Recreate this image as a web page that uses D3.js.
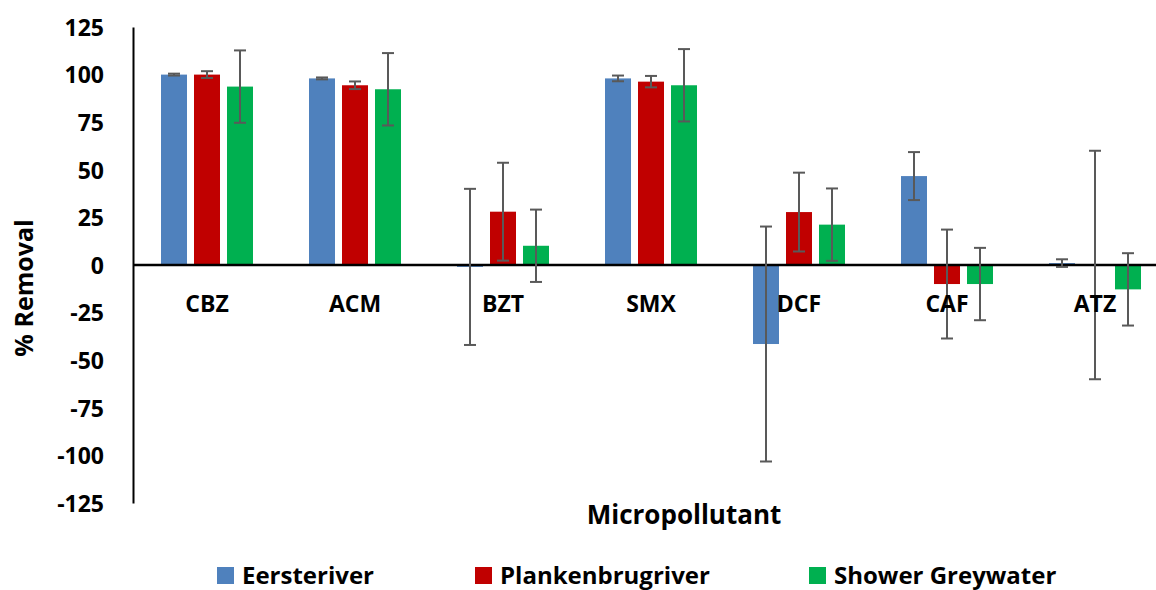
<!DOCTYPE html>
<html>
<head>
<meta charset="utf-8">
<script src="https://cdn.jsdelivr.net/npm/d3@7"></script>
<style>
  body { margin: 0; background: #fff; }
  text { font-family: "Open Sans", sans-serif; font-weight: bold; fill: #000; }
</style>
</head>
<body>
<script>
var w = 1156;
var h = 590;

// data
var categories = ["CBZ", "ACM", "BZT", "SMX", "DCF", "CAF", "ATZ"];
var seriesNames = ["Eersteriver", "Plankenbrugriver", "Shower Greywater"];
var eersteriver = [100, 98, -1, 98, -41.5, 46.7, 1];
var eersteriverErr = [0.5, 0.5, 41, 1.5, 61.7, 12.6, 2];
var plankenbrug = [100, 94.4, 28, 96.3, 27.8, -10, 0];
var plankenbrugErr = [1.8, 2, 25.7, 3, 20.7, 28.6, 60];
var greywater = [93.7, 92.3, 10.1, 94.4, 21.2, -10, -12.8];
var greywaterErr = [19, 19, 19, 19, 19, 19, 19];
var yTicks = [125, 100, 75, 50, 25, 0, -25, -50, -75, -100, -125];
var colors = ["#4F81BD", "#C00000", "#00B050"];

var values = [eersteriver, plankenbrug, greywater];
var errors = [eersteriverErr, plankenbrugErr, greywaterErr];

var marginLeft = 133, marginTop = 27, plotW = 1036, plotH = 476;

var svg = d3.select("body").append("svg").attr("width", w).attr("height", h);
var g = svg.append("g").attr("transform", "translate(" + marginLeft + "," + marginTop + ")");

var xScale = d3.scaleBand()
    .domain(categories)
    .range([0, plotW])
    .paddingInner(56 / 148)
    .paddingOuter(28 / 148);
var xInner = d3.scaleBand()
    .domain(d3.range(seriesNames.length))
    .range([0, xScale.bandwidth()])
    .paddingInner(7 / 33);
var yScale = d3.scaleLinear().domain([-125, 125]).range([plotH, 0]);

// bars
var rows = [];
categories.forEach(function (c, i) {
    values.forEach(function (s, j) {
        rows.push({ cat: c, s: j, v: s[i], e: errors[j][i] });
    });
});

g.selectAll("rect.bar").data(rows).enter().append("rect")
    .attr("class", "bar")
    .attr("x", function (d) { return xScale(d.cat) + xInner(d.s); })
    .attr("y", function (d) { return yScale(Math.max(0, d.v)); })
    .attr("width", xInner.bandwidth())
    .attr("height", function (d) { return Math.abs(yScale(d.v) - yScale(0)); })
    .style("fill", function (d) { return colors[d.s]; });

// y axis labels, no ticks (plain hyphen for negatives)
var yAxis = d3.axisLeft(yScale).tickValues(yTicks).tickSize(0).tickPadding(29)
    .tickFormat(function (d) { return String(d); });
var ya = g.append("g").call(yAxis);
ya.attr("font-family", null).attr("font-size", null);
ya.select(".domain").attr("stroke", "#000").attr("stroke-width", 2);
ya.selectAll("text").style("font-size", "23px").attr("dy", "0.36em");

// zero line
g.append("line")
    .attr("x1", 0).attr("x2", plotW)
    .attr("y1", yScale(0)).attr("y2", yScale(0))
    .attr("stroke", "#000").attr("stroke-width", 2.5);

// error bars
var eb = g.selectAll("g.err").data(rows).enter().append("g").attr("class", "err")
    .attr("transform", function (d) {
        return "translate(" + (xScale(d.cat) + xInner(d.s) + xInner.bandwidth() / 2) + ",0)";
    });
eb.append("line")
    .attr("y1", function (d) { return yScale(d.v + d.e); })
    .attr("y2", function (d) { return yScale(d.v - d.e); })
    .attr("stroke", "#595959").attr("stroke-width", 2);
eb.selectAll("line.cap").data(function (d) { return [d.v + d.e, d.v - d.e]; })
    .enter().append("line").attr("class", "cap")
    .attr("x1", -6).attr("x2", 6)
    .attr("y1", function (d) { return yScale(d); })
    .attr("y2", function (d) { return yScale(d); })
    .attr("stroke", "#595959").attr("stroke-width", 2);

// category labels
g.selectAll("text.cat").data(categories).enter().append("text")
    .attr("class", "cat")
    .attr("x", function (d) { return xScale(d) + xScale.bandwidth() / 2; })
    .attr("y", 285)
    .attr("text-anchor", "middle")
    .style("font-size", "23px")
    .text(function (d) { return d; });

// axis titles
svg.append("text")
    .attr("transform", "translate(33,288) rotate(-90)")
    .attr("text-anchor", "middle")
    .style("font-size", "25px")
    .text("% Removal");
svg.append("text")
    .attr("x", 684).attr("y", 524)
    .attr("text-anchor", "middle")
    .style("font-size", "26px")
    .text("Micropollutant");

// legend
var legendX = [217, 475, 809];
var lg = svg.selectAll("g.leg").data(seriesNames).enter().append("g").attr("class", "leg")
    .attr("transform", function (d, i) { return "translate(" + legendX[i] + ",567)"; });
lg.append("rect").attr("width", 17).attr("height", 17)
    .style("fill", function (d, i) { return colors[i]; });
lg.append("text").attr("x", 25).attr("y", 17)
    .style("font-size", "24px")
    .text(function (d) { return d; });
</script>
</body>
</html>
